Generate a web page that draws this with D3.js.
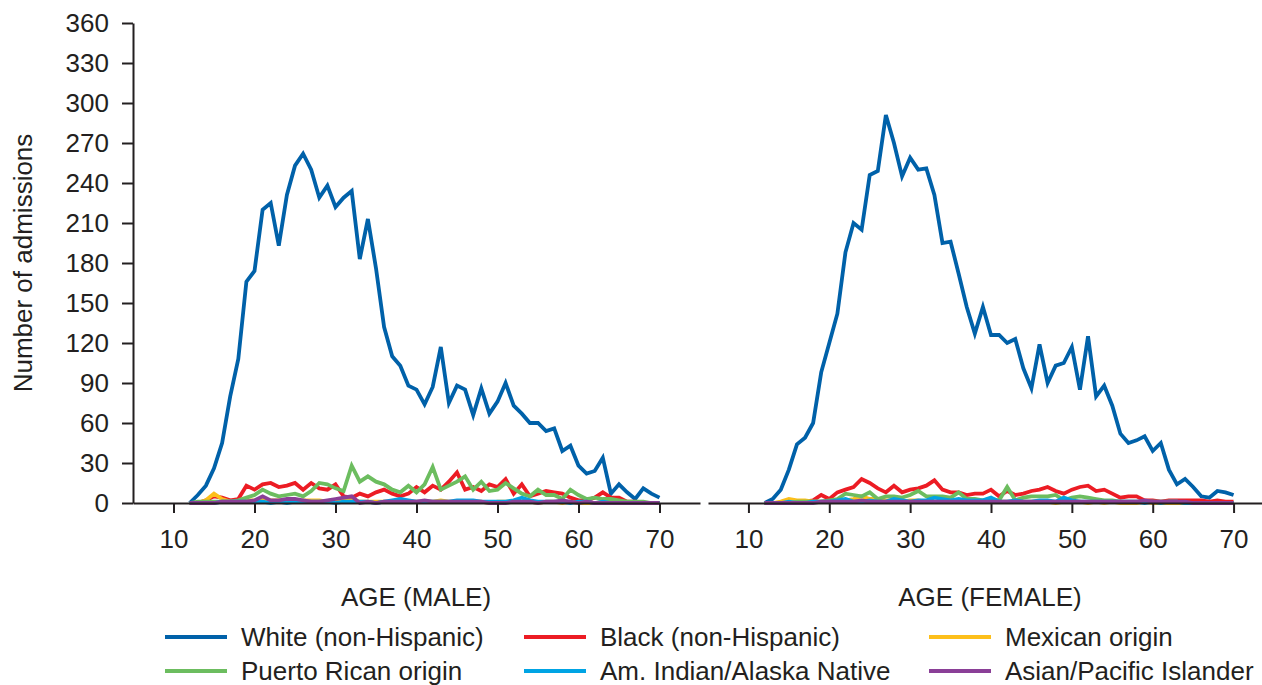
<!DOCTYPE html>
<html>
<head>
<meta charset="utf-8">
<script src="https://cdn.jsdelivr.net/npm/d3@7"></script>
<style>
  html, body { margin: 0; padding: 0; background: #fff; }
  svg { display: block; font-family: "Liberation Sans", Arial, Helvetica, sans-serif; }
</style>
</head>
<body>
<svg id="chart" width="1262" height="685"></svg>
<script>
// ---------- DATA ----------
const ages = d3.range(12, 71); // 12..70
const yTicks = [0, 30, 60, 90, 120, 150, 180, 210, 240, 270, 300, 330, 360];
const xTicks = [10, 20, 30, 40, 50, 60, 70];
const seriesNames = ["White (non-Hispanic)", "Black (non-Hispanic)", "Mexican origin",
                     "Puerto Rican origin", "Am. Indian/Alaska Native", "Asian/Pacific Islander"];
const panelTitles = ["AGE (MALE)", "AGE (FEMALE)"];

// Male
const maleWhite = [0,6,13,26,45,80,108,166,174,220,225,193,231,253,262,250,229,238,222,229,234,183,213,176,132,110,103,88,85,74,87,117,75,88,85,66,86,67,76,90,73,67,60,60,54,56,39,43,28,22,24,34,7,14,8,3,11,7,4];
const maleBlack = [0,0,2,5,4,2,3,13,10,14,15,12,13,15,10,15,11,10,14,5,4,7,5,8,10,7,5,7,12,8,13,10,16,23,10,12,9,14,12,18,7,14,5,7,9,8,7,4,2,2,4,8,4,4,1,1,0,0,0];
const maleMexican = [0,0,2,7,3,1,1,2,2,3,2,2,2,1,2,2,2,1,1,2,2,1,1,1,1,1,1,1,1,1,1,2,1,1,1,1,1,0,1,1,1,1,1,0,1,1,0,1,0,0,0,1,0,0,0,0,0,0,0];
const malePuertoRican = [0,1,1,1,1,1,2,4,6,10,7,5,6,7,5,9,15,14,11,9,28,16,20,16,14,10,8,13,8,14,27,10,13,16,20,10,16,9,10,15,11,7,5,10,6,6,3,10,6,3,4,3,3,2,1,1,1,0,0];
const maleAmIndian = [0,0,0,0,1,1,1,1,1,1,0,1,0,1,1,1,1,1,0,1,1,1,1,0,1,2,3,2,1,1,1,1,1,2,2,2,1,1,1,1,2,4,2,1,1,1,1,0,1,1,0,1,0,0,0,0,0,0,0];
const maleAsian = [0,0,0,0,1,1,1,1,2,5,2,2,3,3,2,1,1,2,3,4,5,0,1,0,1,1,1,1,1,2,1,1,1,1,1,1,1,0,0,0,1,1,1,0,1,1,2,1,0,1,0,0,0,0,0,0,0,0,0];

// Female
const femaleWhite = [0,3,10,25,44,49,60,98,120,142,188,210,205,246,249,291,270,245,259,250,251,231,195,196,172,147,127,147,126,126,120,123,101,86,119,90,103,105,117,85,125,80,88,73,52,45,47,50,39,45,25,14,18,12,5,4,9,8,6];
const femaleBlack = [0,0,0,1,1,1,2,6,3,8,10,12,18,15,11,8,13,8,10,11,13,17,10,8,8,6,7,7,10,5,9,6,7,9,10,12,9,7,10,12,13,9,10,7,4,5,5,2,2,1,2,2,2,2,2,1,2,1,1];
const femaleMexican = [0,0,1,3,2,2,1,1,1,1,2,3,5,3,3,2,2,1,2,2,1,1,1,1,1,1,1,1,1,1,1,1,1,1,1,1,0,1,1,1,0,1,0,1,0,0,0,1,0,0,0,0,0,0,0,0,0,0,0];
const femalePuertoRican = [0,0,0,0,1,1,1,1,2,3,7,6,5,8,3,5,5,4,6,9,5,5,5,4,8,3,3,2,3,2,12,2,4,5,5,5,6,2,4,5,4,3,2,2,1,1,1,1,1,1,1,1,0,0,0,0,0,0,0];
const femaleAmIndian = [0,0,0,1,0,0,1,1,1,2,3,1,1,2,1,1,3,2,1,2,2,4,3,2,3,2,2,2,4,1,1,2,1,1,2,2,1,4,2,1,1,1,1,1,1,1,1,0,1,0,1,1,0,0,0,0,0,0,0];
const femaleAsian = [0,0,0,0,0,0,0,1,1,1,1,1,2,1,1,1,1,1,1,1,1,1,1,1,1,1,1,1,1,1,1,1,1,1,1,1,1,1,1,1,1,1,1,1,1,1,1,2,1,1,1,1,1,0,0,0,0,0,0];

const colors = ["#0061a9", "#ec1c24", "#fdbf1a", "#6cbd5f", "#00a4e4", "#8a3f97"];

const maleSeries = [maleWhite, maleBlack, maleMexican, malePuertoRican, maleAmIndian, maleAsian];
const femaleSeries = [femaleWhite, femaleBlack, femaleMexican, femalePuertoRican, femaleAmIndian, femaleAsian];

// ---------- CHART ----------
const svg = d3.select("#chart");
const axisColor = "#231f20";
const fontSize = 26;
const fontFam = '"Liberation Sans", Arial, sans-serif';

const y = d3.scaleLinear().domain([0, 360]).range([503, 23]);

const panels = [
  { series: maleSeries, x: d3.scaleLinear().domain([5, 75]).range([133, 700]), title: panelTitles[0], titleX: 416, yAxis: true },
  { series: femaleSeries, x: d3.scaleLinear().domain([5, 75]).range([708, 1274]), title: panelTitles[1], titleX: 990, yAxis: false }
];

panels.forEach(p => {
  const g = svg.append("g");
  const line = d3.line().x((d, i) => p.x(ages[i])).y(d => y(d));
  p.series.forEach((s, k) => {
    g.append("path")
      .datum(s)
      .attr("fill", "none")
      .attr("stroke", colors[k])
      .attr("stroke-width", 3.8)
      .attr("stroke-linejoin", "miter")
      .attr("d", line);
  });

  const xa = g.append("g")
    .attr("transform", `translate(0,${y(0)})`)
    .call(d3.axisBottom(p.x).tickValues(xTicks).tickSize(10).tickSizeOuter(0).tickPadding(17).tickFormat(d3.format("d")));
  xa.select(".domain").attr("stroke", axisColor).attr("stroke-width", 2);
  xa.selectAll(".tick line").attr("stroke", axisColor).attr("stroke-width", 2);
  xa.selectAll(".tick text").attr("fill", axisColor).style("font-size", fontSize + "px").style("font-family", fontFam);

  const [r0] = p.x.range();
  g.append("text")
    .attr("x", p.titleX)
    .attr("y", 597)
    .attr("dy", "0.35em")
    .attr("text-anchor", "middle")
    .attr("fill", axisColor)
    .style("font-size", fontSize + "px")
    .text(p.title);

  if (p.yAxis) {
    const ya = g.append("g")
      .attr("transform", `translate(${r0},0)`)
      .call(d3.axisLeft(y).tickValues(yTicks).tickSize(11).tickSizeOuter(0).tickPadding(13));
    ya.select(".domain").attr("stroke", axisColor).attr("stroke-width", 2);
    ya.selectAll(".tick line").attr("stroke", axisColor).attr("stroke-width", 2);
    ya.selectAll(".tick text").attr("fill", axisColor).style("font-size", fontSize + "px").style("font-family", fontFam);

    g.append("text")
      .attr("transform", `translate(23,263) rotate(-90)`)
      .attr("dy", "0.35em")
      .attr("text-anchor", "middle")
      .attr("fill", axisColor)
      .style("font-size", fontSize + "px")
      .text("Number of admissions");
  }
});

// ---------- LEGEND ----------
const legendCols = [165, 524, 929];
const legendRows = [637, 671];
seriesNames.forEach((name, i) => {
  const cx = legendCols[i % 3];
  const cy = legendRows[Math.floor(i / 3)];
  const lg = svg.append("g").attr("transform", `translate(${cx},${cy})`);
  lg.append("line")
    .attr("x1", 0).attr("x2", 62).attr("y1", 0).attr("y2", 0)
    .attr("stroke", colors[i]).attr("stroke-width", 4);
  lg.append("text")
    .attr("x", 76).attr("y", 0).attr("dy", "0.35em")
    .attr("fill", axisColor)
    .style("font-size", fontSize + "px")
    .text(name);
});
</script>
</body>
</html>
